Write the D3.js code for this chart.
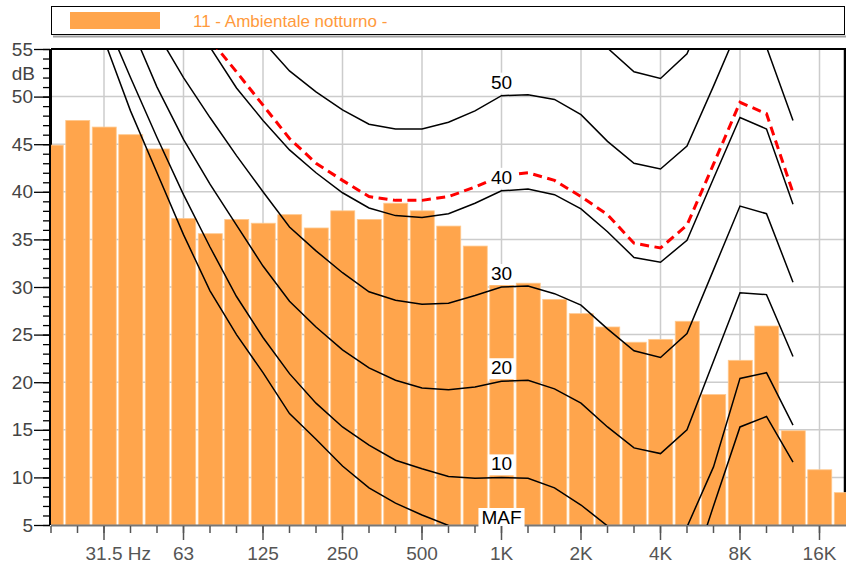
<!DOCTYPE html>
<html><head><meta charset="utf-8">
<script src="https://cdn.jsdelivr.net/npm/d3@7"></script>
<style>
html,body{margin:0;padding:0;background:#fff;}
svg{display:block;font-family:"Liberation Sans",Arial,sans-serif;}
</style></head>
<body><svg id="c" width="846" height="566"></svg>
<script>
// ---- DATA ----
const bands = ["20","25","31.5","40","50","63","80","100","125","160","200","250","315","400","500","630","800","1K","1.25K","1.6K","2K","2.5K","3.15K","4K","5K","6.3K","8K","10K","12.5K","16K","20K"];
const levels = [44.9,47.5,46.8,46.0,44.5,37.2,35.6,37.1,36.7,37.6,36.2,38.0,37.1,38.8,38.0,36.4,34.3,30.2,30.4,28.7,27.2,25.8,24.2,24.5,26.4,18.7,22.3,25.9,14.9,10.8,8.4];
const octaveLabels = {"31.5":"31.5 Hz","63":"63","125":"125","250":"250","500":"500","1K":"1K","2K":"2K","4K":"4K","8K":"8K","16K":"16K"};
const yTickLabels = [5,10,15,20,25,30,35,40,45,50,55];
const seriesName = "11 - Ambientale notturno -";
// equal-loudness contours, 20 Hz .. 12.5 kHz (null = not drawn)
const maf     = [null,null,56.0,48.5,42.0,35.5,29.6,25.0,21.0,16.7,14.0,11.2,8.9,7.3,6.05,4.95,4.2,3.5,3.0,2.0,0.5,-1.5,-3.0,-3.5,-1.5,7.0,15.3,16.4,11.6];
const phon10  = [null,null,58.5,52.0,45.7,39.7,34.2,29.0,24.7,20.9,17.8,15.3,13.4,11.8,10.9,10.1,9.9,10.0,9.9,8.9,7.1,4.9,2.8,2.4,4.8,11.1,20.4,21.0,15.5];
const phon20  = [null,null,64.0,57.5,51.0,45.5,40.8,36.5,32.2,28.5,25.8,23.4,21.5,20.2,19.4,19.2,19.5,20.1,20.2,19.3,17.8,15.3,13.1,12.5,15.0,22.2,29.4,29.2,22.7];
const phon30  = [null,null,null,63.0,56.7,52.0,47.8,43.8,40.0,36.3,33.8,31.5,29.5,28.6,28.2,28.3,29.1,30.0,30.1,29.3,28.1,25.6,23.3,22.6,25.1,31.8,38.5,37.7,30.5];
const phon40  = [null,null,null,null,65.0,60.0,55.2,50.9,47.5,44.4,42.0,39.9,38.3,37.5,37.3,37.7,38.8,40.1,40.3,39.7,38.2,35.8,33.1,32.6,34.9,41.4,47.8,46.6,38.7];
const phon50  = [null,null,null,null,null,null,null,60.0,55.8,52.7,50.5,48.6,47.1,46.6,46.6,47.3,48.5,50.1,50.2,49.7,48.1,45.3,43.0,42.4,44.8,51.1,57.6,55.2,47.5];
const phon60  = [null,null,null,null,null,null,null,null,null,null,null,null,null,null,null,null,null,null,null,59.5,58.0,55.1,52.6,51.9,54.5,61.0,67.0,null,null];
const noiseCurve = [null,null,null,null,null,61.0,56.0,52.6,49.1,45.6,43.0,41.2,39.5,39.1,39.1,39.5,40.5,41.7,42.0,41.2,39.5,37.6,34.6,34.1,36.5,42.9,49.4,48.2,39.9];
const curveLabels = [["50",50.1],["40",40.1],["30",30.0],["20",20.1],["10",10.0]];

// ---- LAYOUT ----
const L=51, R=846, T=49, B=525;
const svg = d3.select("#c");
const x = d3.scaleBand().domain(bands).range([L-13.25, R+13.25]).padding(0);
const cx = b => x(b) + x.bandwidth()/2;
const y = d3.scaleLinear().domain([5,55]).range([B,T]);

svg.append("defs").append("clipPath").attr("id","plot")
  .append("rect").attr("x",L).attr("y",T).attr("width",R-L).attr("height",B-T);

// legend
svg.append("line").attr("x1",53).attr("x2",846).attr("y1",36.5).attr("y2",36.5).attr("stroke","#a0a0a0").attr("stroke-width",2);
svg.append("rect").attr("x",51.5).attr("y",6.5).attr("width",793).attr("height",28).attr("fill","#fff").attr("stroke","#000").attr("stroke-width",1);
svg.append("rect").attr("x",70).attr("y",12).attr("width",90).attr("height",17).attr("fill","#FFA54C");
svg.append("text").attr("x",193).attr("y",27).attr("font-size",17).attr("fill","#FF9A3C").text(seriesName);

// grid
const gp = svg.append("g").attr("clip-path","url(#plot)");
const octaves = Object.keys(octaveLabels);
gp.selectAll(".vg").data(octaves).join("line")
  .attr("x1",d=>cx(d)).attr("x2",d=>cx(d)).attr("y1",T).attr("y2",B)
  .attr("stroke","#cccccc").attr("stroke-width",1.5);
gp.selectAll(".hg").data(yTickLabels.filter(v=>v>5&&v<55)).join("line")
  .attr("x1",L).attr("x2",R).attr("y1",d=>y(d)).attr("y2",d=>y(d))
  .attr("stroke","#cccccc").attr("stroke-width",1.5);

// frame
svg.append("line").attr("x1",L).attr("x2",R).attr("y1",T).attr("y2",T).attr("stroke","#000").attr("stroke-width",2);
svg.append("line").attr("x1",845).attr("x2",845).attr("y1",T).attr("y2",B).attr("stroke","#000").attr("stroke-width",2.5);
svg.append("line").attr("x1",50.5).attr("x2",50.5).attr("y1",T).attr("y2",B).attr("stroke","#000").attr("stroke-width",3);

// bars
const gb = svg.append("g").attr("clip-path","url(#plot)");
gb.selectAll("rect").data(bands.map((b,i)=>({b,v:levels[i]}))).join("rect")
  .attr("x",d=>x(d.b)+1.5).attr("width",x.bandwidth()-2.5)
  .attr("y",d=>y(d.v)).attr("height",d=>B-y(d.v))
  .attr("fill","#FFA54C").attr("stroke","#FFC98F").attr("stroke-width",0.8);

// x axis line
svg.append("line").attr("x1",L).attr("x2",R).attr("y1",B+0.5).attr("y2",B+0.5).attr("stroke","#777").attr("stroke-width",2);

// curves
const cb = bands.slice(0,29);
const line = d3.line().defined(d=>d.v!==null).x(d=>cx(d.b)).y(d=>y(d.v)).curve(d3.curveLinear);
const gc = svg.append("g").attr("clip-path","url(#plot)");
[maf,phon10,phon20,phon30,phon40,phon50,phon60].forEach(arr=>{
  gc.append("path").datum(cb.map((b,i)=>({b,v:arr[i]})))
    .attr("d",line).attr("fill","none").attr("stroke","#000").attr("stroke-width",1.5);
});
gc.append("path").datum(cb.map((b,i)=>({b,v:noiseCurve[i]})))
  .attr("d",line).attr("fill","none").attr("stroke","#ff0000").attr("stroke-width",3)
  .attr("stroke-dasharray","9,5.5");

// curve labels
const gl = svg.append("g");
function lab(txt, xx, base){
  const r = gl.append("rect").attr("fill","#fff");
  const t = gl.append("text").attr("x",xx).attr("y",base).attr("text-anchor","middle")
    .attr("font-size",19).attr("fill","#000").text(txt);
  const bb = t.node().getBBox();
  r.attr("x",bb.x-3).attr("y",bb.y+1).attr("width",bb.width+6).attr("height",bb.height);
}
curveLabels.forEach(([t,v])=>lab(t, cx("1K"), y(v)-7));
lab("MAF", cx("1K"), 524);

// y axis
const minor = d3.range(5,56,1);
const gy1 = svg.append("g").attr("transform",`translate(${L-1},0)`)
  .call(d3.axisLeft(y).tickValues(minor).tickSize(7).tickFormat(""));
const gy2 = svg.append("g").attr("transform",`translate(${L-1},0)`)
  .call(d3.axisLeft(y).tickValues(yTickLabels).tickSize(16).tickPadding(1));
[gy1,gy2].forEach(g=>{g.select(".domain").remove(); g.selectAll(".tick line").attr("stroke","#000").attr("stroke-width",1.3);});
gy2.selectAll("text").attr("font-size",19).attr("fill","#444").attr("font-family","Liberation Sans, Arial, sans-serif");
svg.append("text").attr("x",35).attr("y",80).attr("text-anchor","end").attr("font-size",19).attr("fill","#444").text("dB");

// x axis
const gx1 = svg.append("g").attr("transform",`translate(0,${B+1})`)
  .call(d3.axisBottom(x).tickValues(bands.slice(0,30)).tickSize(7).tickFormat(""));
const gx2 = svg.append("g").attr("transform",`translate(0,${B+1})`)
  .call(d3.axisBottom(x).tickValues(octaves).tickSize(14).tickPadding(7).tickFormat(d=>octaveLabels[d]));
[gx1,gx2].forEach(g=>{g.select(".domain").remove(); g.selectAll(".tick line").attr("stroke","#555").attr("stroke-width",1.5);});
gx2.selectAll("text").attr("font-size",19).attr("fill","#555").attr("font-family","Liberation Sans, Arial, sans-serif");
// keep the number "31.5" centred on its tick, with "Hz" following it
gx2.selectAll(".tick text").filter(d=>d==="31.5").attr("text-anchor","start").attr("x",-18.5);
</script></body></html>
